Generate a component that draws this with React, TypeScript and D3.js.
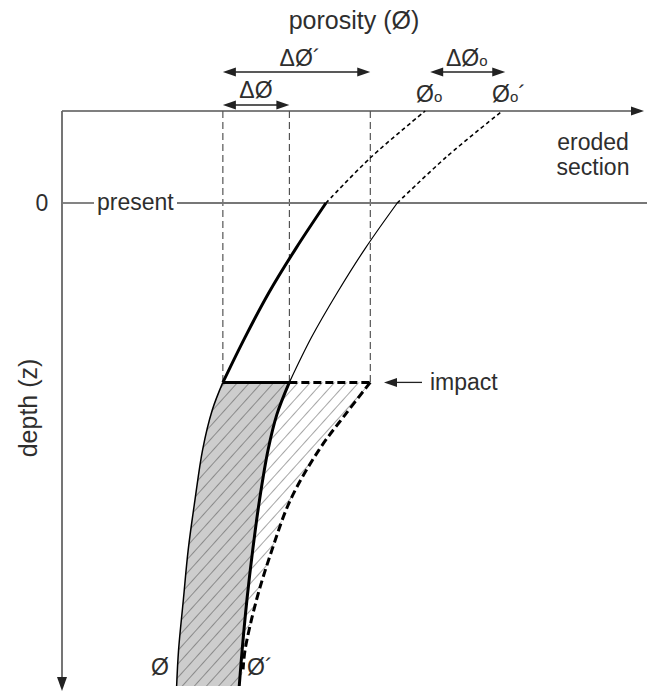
import React from "react";
import * as d3 from "d3";

// porosity in %, depth in arbitrary units (0 = present surface, -1 = top of eroded section)
const axisTopDepth = -1;
const presentDepth = 0;
const impactDepth = 1.95;
const bottomDepth = 5.25;
const phi0 = 37.7;       // surface porosity (original curve)
const phi0p = 45.7;      // surface porosity (impact curve)
const phiImpact = 16.7;  // porosity at impact depth, Ø curve
const phiPImpact = 23.6; // porosity at impact depth, Ø´ curve
const phiDashImpact = 32.0;

// curve Ø above impact (thick solid in buried section)
const phiAboveDepth = [1.95, 1.46, 0.97, 0.49, 0];
const phiAboveVal = [16.7, 19.0, 21.5, 24.3, 27.4];
// curve Ø in eroded section (dotted)
const phiErodedDepth = [0, -0.5, -1];
const phiErodedVal = [27.4, 32.1, 37.7];
// curve Ø´ above impact (thin)
const phiPAboveDepth = [1.95, 1.46, 0.97, 0.49, 0];
const phiPAboveVal = [23.6, 25.9, 28.6, 31.5, 34.8];
const phiPErodedDepth = [0, -0.5, -1];
const phiPErodedVal = [34.8, 39.9, 45.7];
// below impact: Ø (thin), Ø´ (thick), dashed
const phiBelowDepth = [1.95, 2.25, 2.68, 3.23, 3.77, 4.31, 4.86, 5.25];
const phiBelowVal = [16.7, 15.6, 14.6, 13.8, 13.1, 12.6, 12.1, 11.9];
const phiPBelowDepth = [1.95, 2.3, 2.68, 3.23, 3.77, 4.31, 4.86, 5.25];
const phiPBelowVal = [23.6, 22.3, 21.4, 20.5, 19.8, 19.2, 18.7, 18.4];
const dashBelowDepth = [1.95, 2.3, 2.68, 3.23, 3.77, 4.31, 4.86, 5.07];
const dashBelowVal = [32.0, 29.4, 26.7, 23.7, 21.8, 20.2, 19.0, 18.8];

const W = 647;
const H = 692;
const FONT = "'Liberation Sans', Arial, Helvetica, sans-serif";
const TXT = "#2e2e2e";

const x = d3.scaleLinear().domain([0, 60]).range([62, 640]);
const y = d3.scaleLinear().domain([axisTopDepth, presentDepth]).range([111, 203]);

const zip = (ds: number[], vs: number[]) => ds.map((d, i) => [vs[i], d] as [number, number]);

const line = d3
  .line<[number, number]>()
  .x((d) => x(d[0]))
  .y((d) => y(d[1]))
  .curve(d3.curveCatmullRom.alpha(0.5));

function band(right: [number, number][], left: [number, number][]) {
  const a = line(right) as string;
  const b = (line([...left].reverse()) as string).replace(/^M/, "L");
  return a + b + "Z";
}

const L = 13;
const HW = 4.5;
function headRight(tx: number, ty: number) {
  return `M${tx},${ty} L${tx - L},${ty - HW} L${tx - L},${ty + HW} Z`;
}
function headLeft(tx: number, ty: number) {
  return `M${tx},${ty} L${tx + L},${ty - HW} L${tx + L},${ty + HW} Z`;
}

function Arrow({ x1, x2, yy }: { x1: number; x2: number; yy: number }) {
  return (
    <g>
      <line x1={x1 + L - 2} x2={x2 - L + 2} y1={yy} y2={yy} stroke="#222" strokeWidth={1.3} />
      <path d={headRight(x2, yy)} fill="#222" />
      <path d={headLeft(x1, yy)} fill="#222" />
    </g>
  );
}

export default function App() {
  const phiAbove = zip(phiAboveDepth, phiAboveVal);
  const phiEroded = zip(phiErodedDepth, phiErodedVal);
  const phiPAbove = zip(phiPAboveDepth, phiPAboveVal);
  const phiPEroded = zip(phiPErodedDepth, phiPErodedVal);
  const phiBelow = zip(phiBelowDepth, phiBelowVal);
  const phiPBelow = zip(phiPBelowDepth, phiPBelowVal);
  const dashBelow = zip(dashBelowDepth, dashBelowVal);
  const dashBand = [...dashBelow, ...phiPBelow.filter((p) => p[1] > dashBelowDepth[dashBelowDepth.length - 1])];

  const yTop = y(axisTopDepth);
  const yPresent = y(presentDepth);
  const yImpact = y(impactDepth);
  const xAxis0 = x(0);

  return (
    <svg width={W} height={H} style={{ position: "absolute", left: 0, top: 0, background: "#fff" }} fontFamily={FONT}>
      <defs>
        <pattern id="hatch" patternUnits="userSpaceOnUse" width={9} height={9} patternTransform="rotate(42)">
          <line x1={0} y1={0} x2={0} y2={9} stroke="#3a3a3a" strokeWidth={0.9} />
        </pattern>
      </defs>

      {/* fills */}
      <path d={band(phiPBelow, phiBelow)} fill="#cdcdcd" />
      <path d={band(phiPBelow, phiBelow)} fill="url(#hatch)" />
      <path d={band(dashBand, phiPBelow)} fill="url(#hatch)" />

      {/* dashed vertical guides */}
      {[phiImpact, phiPImpact, phiDashImpact].map((p, i) => (
        <line key={i} x1={x(p)} x2={x(p)} y1={yTop} y2={yImpact} stroke="#333" strokeWidth={1} strokeDasharray="7,4" />
      ))}

      {/* axes */}
      <line x1={xAxis0} x2={632} y1={yTop} y2={yTop} stroke="#555" strokeWidth={1.6} />
      <path d={headRight(644, yTop)} fill="#222" />
      <line x1={xAxis0} x2={xAxis0} y1={yTop} y2={678} stroke="#666" strokeWidth={1.8} />
      <path d={`M${xAxis0},691 L${xAxis0 - 5},677 L${xAxis0 + 5},677 Z`} fill="#222" />

      {/* present line */}
      <line x1={xAxis0} x2={94} y1={yPresent} y2={yPresent} stroke="#777" strokeWidth={1.8} />
      <line x1={177} x2={W} y1={yPresent} y2={yPresent} stroke="#777" strokeWidth={1.8} />

      {/* curves above impact */}
      <path d={line(phiAbove) as string} fill="none" stroke="#000" strokeWidth={3} />
      <path d={line(phiEroded) as string} fill="none" stroke="#000" strokeWidth={1.6} strokeDasharray="4,3" />
      <path d={line(phiPAbove) as string} fill="none" stroke="#000" strokeWidth={1.2} />
      <path d={line(phiPEroded) as string} fill="none" stroke="#000" strokeWidth={1.6} strokeDasharray="4,3" />

      {/* curves below impact */}
      <path d={line(phiBelow) as string} fill="none" stroke="#000" strokeWidth={1.5} />
      <path d={line(phiPBelow) as string} fill="none" stroke="#000" strokeWidth={3} />
      <path d={line(dashBelow) as string} fill="none" stroke="#000" strokeWidth={3} strokeDasharray="8,4" />

      {/* impact line */}
      <line x1={x(phiImpact)} x2={x(phiPImpact)} y1={yImpact} y2={yImpact} stroke="#000" strokeWidth={3} />
      <line x1={x(phiPImpact)} x2={x(phiDashImpact)} y1={yImpact} y2={yImpact} stroke="#000" strokeWidth={3} strokeDasharray="8,4" />

      {/* delta arrows */}
      <Arrow x1={x(phiImpact)} x2={x(phiDashImpact)} yy={72} />
      <Arrow x1={x(phiImpact)} x2={x(phiPImpact)} yy={105} />
      <Arrow x1={x(phi0) + 5} x2={x(phi0p) + 3} yy={72} />

      {/* impact pointer */}
      <line x1={422} x2={384 + L - 2} y1={yImpact} y2={yImpact} stroke="#222" strokeWidth={1.3} />
      <path d={headLeft(384, yImpact)} fill="#222" />

      {/* texts */}
      <g fill={TXT} fontSize={23}>
        <text x={354} y={29} textAnchor="middle" fontSize={25}>porosity (Ø)</text>
        <text x={300} y={66} textAnchor="middle">ΔØ´</text>
        <text x={256} y={98} textAnchor="middle">ΔØ</text>
        <text x={446} y={66}>ΔØ<tspan fontSize={15}>o</tspan></text>
        <text x={416} y={102}>Ø<tspan fontSize={15}>o</tspan></text>
        <text x={492} y={102}>Ø<tspan fontSize={15}>o</tspan>´</text>
        <text x={593} y={150} textAnchor="middle">eroded</text>
        <text x={593} y={175} textAnchor="middle">section</text>
        <text x={42} y={211} textAnchor="middle">0</text>
        <text x={97} y={210}>present</text>
        <text x={430} y={390}>impact</text>
        <text x={151} y={675}>Ø</text>
        <text x={247} y={675}>Ø´</text>
        <text transform={`translate(37,408) rotate(-90)`} textAnchor="middle" fontSize={25}>depth (z)</text>
      </g>
    </svg>
  );
}
